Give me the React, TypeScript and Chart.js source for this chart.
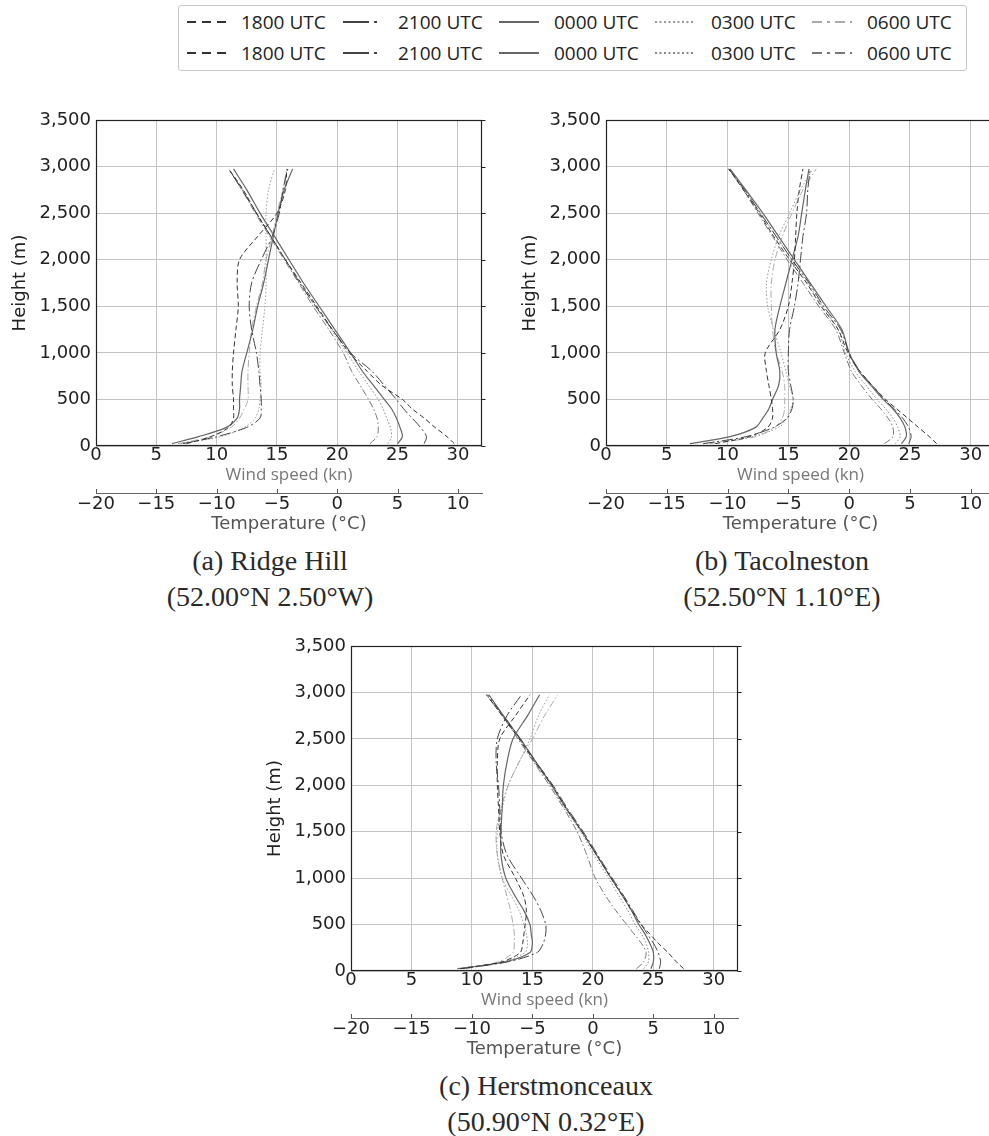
import React, { useEffect, useRef } from 'react';
import { Chart, registerables } from 'chart.js';

Chart.register(...registerables);

// ---------- data ----------
const HEIGHTS = [25, 100, 200, 300, 400, 500, 650, 800, 1000, 1250, 1500, 1750, 2000, 2250, 2500, 2750, 2975];
const WIND_TICKS = [0, 5, 10, 15, 20, 25, 30];
const TEMP_TICKS = [-20, -15, -10, -5, 0, 5, 10];
const HEIGHT_TICKS = [0, 500, 1000, 1500, 2000, 2500, 3000, 3500];
const TIMES = ['1800 UTC', '2100 UTC', '0000 UTC', '0300 UTC', '0600 UTC'];

// (a) Ridge Hill — wind speed (kn)
const A_W_1800 = [7.5, 9.5, 11.0, 11.4, 11.4, 11.4, 11.3, 11.3, 11.4, 11.6, 11.8, 11.7, 11.9, 13.4, 15.0, 15.7, 15.8];
const A_W_2100 = [7.2, 10.0, 12.5, 13.6, 13.7, 13.7, 13.6, 13.5, 13.3, 12.9, 12.7, 12.9, 13.7, 14.6, 15.2, 15.5, 15.9];
const A_W_0000 = [6.3, 8.5, 10.8, 11.7, 11.9, 11.9, 12.0, 12.1, 12.5, 13.0, 13.4, 13.9, 14.3, 14.7, 15.1, 15.6, 16.3];
const A_W_0300 = [7.0, 10.3, 12.3, 13.2, 13.5, 13.6, 13.7, 13.6, 13.6, 13.8, 14.0, 14.1, 14.1, 14.1, 14.1, 14.3, 14.8];
const A_W_0600 = [6.8, 9.5, 11.2, 11.9, 12.3, 12.6, 12.6, 12.6, 12.7, 12.9, 13.3, 13.8, 14.1, 14.6, 15.0, 15.5, 15.8];
// (a) Ridge Hill — temperature (°C)
const A_T_1800 = [9.7, 9.1, 8.1, 7.2, 6.2, 5.4, 3.7, 2.5, 1.0, -0.4, -1.7, -3.0, -4.3, -5.5, -6.7, -7.8, -9.0];
const A_T_2100 = [7.2, 7.4, 6.9, 6.2, 5.5, 4.9, 3.9, 2.9, 1.1, -0.4, -1.8, -3.1, -4.3, -5.5, -6.7, -7.9, -9.0];
const A_T_0000 = [5.0, 5.4, 5.2, 4.9, 4.5, 3.9, 3.0, 2.1, 1.1, -0.2, -1.5, -2.8, -4.0, -5.2, -6.4, -7.5, -8.6];
const A_T_0300 = [4.2, 4.5, 4.4, 4.1, 3.8, 3.4, 2.6, 1.8, 0.8, -0.5, -1.8, -3.1, -4.3, -5.5, -6.7, -7.8, -9.0];
const A_T_0600 = [2.7, 3.3, 3.4, 3.3, 3.0, 2.6, 1.9, 1.2, 0.5, -0.7, -2.0, -3.2, -4.4, -5.6, -6.8, -7.9, -9.0];

// (b) Tacolneston — wind speed (kn)
const B_W_1800 = [9.0, 11.8, 13.3, 13.7, 13.7, 13.6, 13.4, 13.2, 13.1, 14.3, 15.0, 15.3, 15.5, 15.6, 15.7, 15.9, 16.2];
const B_W_2100 = [8.0, 11.5, 13.8, 14.9, 15.3, 15.4, 15.2, 15.0, 15.0, 15.1, 15.5, 15.8, 16.0, 16.2, 16.5, 16.6, 16.8];
const B_W_0000 = [6.9, 10.2, 12.3, 12.9, 13.4, 13.7, 14.2, 14.3, 14.0, 13.9, 14.3, 14.8, 15.3, 15.8, 16.1, 16.4, 16.7];
const B_W_0300 = [8.0, 12.0, 14.2, 14.9, 15.2, 15.4, 15.1, 14.8, 14.4, 13.8, 13.3, 13.2, 13.6, 14.2, 15.1, 16.0, 17.0];
const B_W_0600 = [8.5, 12.3, 13.9, 14.5, 14.7, 14.7, 14.7, 14.5, 14.0, 13.7, 13.6, 13.6, 13.9, 14.5, 15.3, 16.2, 17.3];
// (b) Tacolneston — temperature (°C)
const B_T_1800 = [7.2, 6.6, 5.7, 4.8, 3.9, 3.0, 1.9, 0.9, -0.1, -0.9, -2.3, -3.5, -4.9, -6.2, -7.4, -8.7, -9.9];
const B_T_2100 = [4.9, 5.1, 4.9, 4.4, 3.7, 2.9, 1.9, 0.9, 0.0, -0.7, -2.1, -3.3, -4.7, -6.0, -7.3, -8.6, -9.9];
const B_T_0000 = [4.3, 4.7, 4.6, 4.2, 3.6, 2.8, 1.8, 0.8, 0.0, -0.6, -1.9, -3.2, -4.5, -5.8, -7.1, -8.5, -9.8];
const B_T_0300 = [3.8, 4.2, 4.0, 3.6, 3.0, 2.3, 1.4, 0.5, -0.3, -0.9, -2.2, -3.4, -4.7, -6.0, -7.3, -8.6, -9.9];
const B_T_0600 = [2.9, 3.6, 3.6, 3.2, 2.6, 1.9, 1.0, 0.2, -0.4, -1.1, -2.5, -3.8, -5.1, -6.3, -7.5, -8.7, -9.9];

// (c) Herstmonceaux — wind speed (kn)
const C_W_1800 = [9.0, 12.5, 14.0, 14.2, 14.3, 14.4, 14.5, 14.3, 13.6, 12.6, 12.3, 12.2, 12.1, 12.1, 12.3, 13.6, 14.8];
const C_W_2100 = [9.2, 13.0, 15.4, 15.9, 16.1, 16.1, 15.7, 15.1, 14.1, 12.9, 12.4, 12.3, 12.2, 12.0, 12.1, 12.9, 14.1];
const C_W_0000 = [8.8, 12.8, 14.8, 15.0, 14.9, 14.8, 14.3, 13.6, 12.8, 12.4, 12.4, 12.5, 12.6, 12.9, 13.4, 14.6, 15.6];
const C_W_0300 = [9.2, 12.6, 14.4, 14.6, 14.5, 14.3, 13.9, 13.3, 12.5, 12.1, 12.1, 12.5, 13.0, 13.9, 14.8, 15.5, 16.4];
const C_W_0600 = [9.5, 12.2, 13.4, 13.5, 13.5, 13.4, 13.2, 12.9, 12.5, 12.1, 12.0, 12.4, 13.0, 13.9, 15.0, 16.0, 17.1];
// (c) Herstmonceaux — temperature (°C)
const C_T_1800 = [7.5, 6.9, 6.2, 5.4, 4.7, 4.0, 3.2, 2.5, 1.5, 0.3, -0.9, -2.2, -3.4, -4.8, -6.1, -7.5, -8.8];
const C_T_2100 = [5.5, 5.6, 5.4, 5.0, 4.5, 4.0, 3.3, 2.6, 1.6, 0.4, -0.8, -2.1, -3.3, -4.7, -6.0, -7.4, -8.7];
const C_T_0000 = [4.8, 5.0, 5.0, 4.7, 4.3, 3.8, 3.2, 2.5, 1.5, 0.3, -0.9, -2.2, -3.4, -4.7, -6.0, -7.4, -8.6];
const C_T_0300 = [4.2, 4.6, 4.6, 4.4, 4.0, 3.5, 2.9, 2.2, 1.3, 0.1, -1.0, -2.3, -3.5, -4.8, -6.1, -7.5, -8.8];
const C_T_0600 = [3.6, 4.2, 4.4, 4.0, 3.4, 2.8, 1.9, 1.1, 0.2, -0.5, -1.3, -2.4, -3.6, -4.9, -6.2, -7.5, -8.8];

// ---------- styles ----------
type Sty = { color: string; dash: number[]; width: number; legendDash: string };
const WIND_STYLES: Sty[] = [
  { color: '#333333', dash: [5, 3], width: 1, legendDash: '9 6' },
  { color: '#444444', dash: [11, 3, 2, 3], width: 1, legendDash: '26 5 3 10' },
  { color: '#666666', dash: [], width: 1.2, legendDash: '' },
  { color: '#999999', dash: [1.5, 2], width: 1, legendDash: '2 2.5' },
  { color: '#aaaaaa', dash: [7, 2.5, 1.5, 2.5], width: 1, legendDash: '10 5 3 5' },
];
const TEMP_STYLES: Sty[] = [
  { color: '#333333', dash: [5, 3], width: 1, legendDash: '9 6' },
  { color: '#444444', dash: [11, 3, 2, 3], width: 1, legendDash: '26 5 3 10' },
  { color: '#666666', dash: [], width: 1.2, legendDash: '' },
  { color: '#888888', dash: [1.5, 2], width: 1, legendDash: '2 2.5' },
  { color: '#777777', dash: [7, 2.5, 1.5, 2.5], width: 1, legendDash: '10 5 3 5' },
];

const TICK_FONT = { family: 'DejaVu Sans', size: 18 };
const GRID_COLOR = '#c4c4c4';
const fmtMinus = (v: number) => (v < 0 ? '\u2212' + Math.abs(v) : String(v));

const framePlugin = {
  id: 'frame',
  afterDraw(chart: any) {
    const { ctx, chartArea: a, scales } = chart;
    ctx.save();
    ctx.strokeStyle = '#222';
    ctx.lineWidth = 1.2;
    const l = Math.round(a.left) + 0.5, t = Math.round(a.top) + 0.5;
    const r = Math.round(a.right) - 0.5, b = Math.round(a.bottom) - 0.5;
    ctx.strokeRect(l, t, r - l, b - t);
    ctx.lineWidth = 1;
    scales.y.ticks.forEach((tk: any) => {
      const py = Math.round(scales.y.getPixelForValue(tk.value)) + 0.5;
      ctx.beginPath();
      ctx.moveTo(r, py);
      ctx.lineTo(r + 4, py);
      ctx.stroke();
    });
    const x2 = scales.x2;
    ctx.strokeStyle = '#555';
    x2.ticks.forEach((tk: any) => {
      const px = Math.round(x2.getPixelForValue(tk.value)) + 0.5;
      ctx.beginPath();
      ctx.moveTo(px, x2.top);
      ctx.lineTo(px, x2.top - 4);
      ctx.stroke();
    });
    ctx.restore();
  },
};

type PanelProps = {
  left: number; top: number; width: number; height: number; padRight: number;
  wind: number[][]; temp: number[][];
};

function Panel({ left, top, width, height, padRight, wind, temp }: PanelProps) {
  const ref = useRef<HTMLCanvasElement>(null);
  useEffect(() => {
    if (!ref.current) return;
    const datasets: any[] = [];
    wind.forEach((vals, i) => {
      const s = WIND_STYLES[i];
      datasets.push({
        label: 'Wind ' + TIMES[i],
        data: HEIGHTS.map((h, k) => ({ x: vals[k], y: h })),
        xAxisID: 'x', yAxisID: 'y',
        borderColor: s.color, borderWidth: s.width, borderDash: s.dash,
        pointRadius: 0, fill: false, tension: 0.3,
      });
    });
    temp.forEach((vals, i) => {
      const s = TEMP_STYLES[i];
      datasets.push({
        label: 'Temperature ' + TIMES[i],
        data: HEIGHTS.map((h, k) => ({ x: vals[k], y: h })),
        xAxisID: 'x2', yAxisID: 'y',
        borderColor: s.color, borderWidth: s.width, borderDash: s.dash,
        pointRadius: 0, fill: false, tension: 0.3,
      });
    });
    const chart = new Chart(ref.current, {
      type: 'line',
      data: { datasets },
      options: {
        animation: false,
        responsive: false,
        maintainAspectRatio: false,
        devicePixelRatio: 1,
        layout: { padding: { top: 20, right: padRight, bottom: 0, left: 0 } },
        plugins: { legend: { display: false }, tooltip: { enabled: false } },
        scales: {
          x: {
            type: 'linear', position: 'bottom', min: 0, max: 32, weight: 0,
            afterBuildTicks: (s: any) => { s.ticks = WIND_TICKS.map((v) => ({ value: v })); },
            afterFit: (s: any) => { s.height = 47; },
            grid: { color: GRID_COLOR, lineWidth: 1, drawTicks: false },
            border: { display: false },
            ticks: { padding: -1, color: '#222', font: TICK_FONT, autoSkip: false, maxRotation: 0, callback: (v: any) => String(v) },
            title: { display: true, text: 'Wind speed (kn)', color: '#777', font: { family: 'Open Sans', size: 17 }, padding: { top: 0, bottom: 8 } },
          },
          x2: {
            type: 'linear', position: 'bottom', min: -20, max: 12, weight: 1,
            afterBuildTicks: (s: any) => { s.ticks = TEMP_TICKS.map((v) => ({ value: v })); },
            afterFit: (s: any) => { s.height = 47; },
            grid: { display: true, drawOnChartArea: false, drawTicks: false },
            border: { display: true, color: '#666', width: 1 },
            ticks: { padding: 1, color: '#222', font: TICK_FONT, autoSkip: false, maxRotation: 0, callback: (v: any) => fmtMinus(Number(v)) },
            title: { display: true, text: 'Temperature (°C)', color: '#555', font: TICK_FONT, padding: { top: 0, bottom: 5 } },
          },
          y: {
            type: 'linear', position: 'left', min: 0, max: 3500,
            afterBuildTicks: (s: any) => { s.ticks = HEIGHT_TICKS.map((v) => ({ value: v })); },
            afterFit: (s: any) => { s.width = 96; },
            grid: { color: GRID_COLOR, lineWidth: 1, drawTicks: false },
            border: { display: false },
            ticks: { padding: 5, color: '#222', font: TICK_FONT, autoSkip: false, callback: (v: any) => Number(v).toLocaleString('en-US') },
            title: { display: true, text: 'Height (m)', color: '#222', font: TICK_FONT, padding: { top: 10, bottom: 0 } },
          },
        },
      } as any,
      plugins: [framePlugin],
    });
    return () => chart.destroy();
  }, []);
  return (
    <canvas
      ref={ref}
      width={width}
      height={height}
      style={{ position: 'absolute', left, top, width, height }}
    />
  );
}

function Sample({ sty, x, cy }: { sty: Sty; x: number; cy: number }) {
  return (
    <svg width={40} height={10} style={{ position: 'absolute', left: x, top: cy - 5 }}>
      <line x1={0} y1={5} x2={40} y2={5} stroke={sty.color} strokeWidth={2.2}
        strokeDasharray={sty.legendDash || undefined} />
    </svg>
  );
}

const LEG_SAMPLE_X = [187, 343, 499, 655, 812];
const LEG_TEXT_X = [241, 398, 554, 711, 867];

function Legend() {
  const rows = [
    { cy: 22, styles: WIND_STYLES },
    { cy: 53, styles: TEMP_STYLES },
  ];
  return (
    <div>
      <div style={{ position: 'absolute', left: 178, top: 5, width: 787, height: 64, border: '1px solid #c8c8c8', borderRadius: 3, background: '#fff' }} />
      {rows.map((row, r) =>
        TIMES.map((t, i) => (
          <React.Fragment key={r + '-' + i}>
            <Sample sty={row.styles[i]} x={LEG_SAMPLE_X[i]} cy={row.cy} />
            <div style={{ position: 'absolute', left: LEG_TEXT_X[i], top: row.cy - 12, height: 24, lineHeight: '24px', fontFamily: 'Open Sans', fontSize: 19, color: '#222', whiteSpace: 'nowrap' }}>{t}</div>
          </React.Fragment>
        ))
      )}
    </div>
  );
}

function Caption({ cx, cy, lines }: { cx: number; cy: number; lines: string[] }) {
  return (
    <>
      {lines.map((ln, i) => (
        <div key={i} style={{ position: 'absolute', left: cx - 200, width: 400, top: cy + i * 36 - 18, height: 36, lineHeight: '36px', textAlign: 'center', fontFamily: '"Liberation Serif", serif', fontSize: 28, color: '#2a2a2a', whiteSpace: 'nowrap' }}>{ln}</div>
      ))}
    </>
  );
}

export default function App() {
  return (
    <div style={{ position: 'absolute', left: 0, top: 0, width: 989, height: 1136, overflow: 'hidden', background: '#fff' }}>
      <Legend />
      <Panel left={0} top={100} width={490} height={440} padRight={8}
        wind={[A_W_1800, A_W_2100, A_W_0000, A_W_0300, A_W_0600]}
        temp={[A_T_1800, A_T_2100, A_T_0000, A_T_0300, A_T_0600]} />
      <Panel left={510} top={100} width={490} height={440} padRight={5}
        wind={[B_W_1800, B_W_2100, B_W_0000, B_W_0300, B_W_0600]}
        temp={[B_T_1800, B_T_2100, B_T_0000, B_T_0300, B_T_0600]} />
      <Panel left={255} top={626} width={490} height={439} padRight={7}
        wind={[C_W_1800, C_W_2100, C_W_0000, C_W_0300, C_W_0600]}
        temp={[C_T_1800, C_T_2100, C_T_0000, C_T_0300, C_T_0600]} />
      <Caption cx={270} cy={561} lines={['(a) Ridge Hill', '(52.00°N 2.50°W)']} />
      <Caption cx={782} cy={561} lines={['(b) Tacolneston', '(52.50°N 1.10°E)']} />
      <Caption cx={546} cy={1086} lines={['(c) Herstmonceaux', '(50.90°N 0.32°E)']} />
    </div>
  );
}
